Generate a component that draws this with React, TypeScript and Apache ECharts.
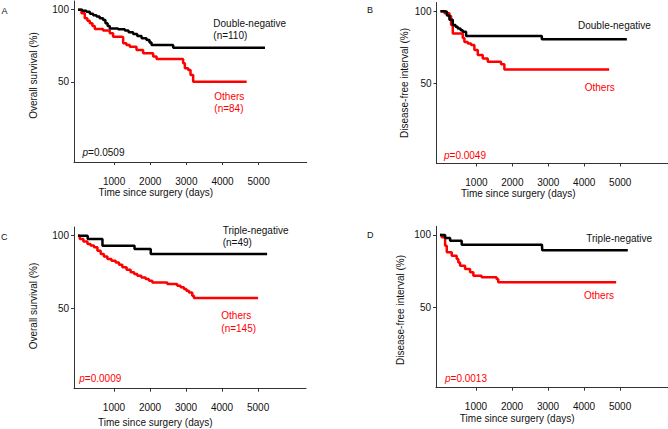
import React, { useEffect, useRef } from "react";
import * as echarts from "echarts";

// Tick labels
const xTicks = [1000, 2000, 3000, 4000, 5000];
const yTicks = [50, 100];

// Panel A: overall survival, double-negative vs others
const aDoubleNeg: [number, number][] = [
  [0, 100], [120, 99.3], [235, 98.6], [330, 97.2], [420, 96.1], [512, 95.2], [600, 94.1], [695, 92.9],
  [760, 90.6], [820, 88.6], [880, 87.0], [1110, 86.4], [1296, 85.5], [1400, 84.4], [1526, 83.2],
  [1640, 81.7], [1760, 80.2], [1897, 79.0], [1980, 77.3], [2036, 75.5], [2635, 73.7], [5175, 73.7],
];
const aOthers: [number, number][] = [
  [0, 100], [97, 97.5], [188, 94.0], [260, 92.3], [327, 90.6], [400, 88.6], [465, 86.6], [695, 85.5],
  [880, 83.6], [972, 81.3], [1205, 80.9], [1250, 76.7], [1340, 75.6], [1435, 74.4], [1620, 72.1],
  [1803, 69.8], [2080, 67.5], [2175, 65.9], [2820, 65.9], [2910, 62.9], [2958, 59.4], [3050, 58.2],
  [3115, 54.8], [3188, 50.1], [4668, 50.1],
];

// Panel B: disease-free interval, double-negative vs others
const bDoubleNeg: [number, number][] = [
  [0, 100], [111, 99.6], [180, 97.0], [250, 94.0], [343, 90.4], [420, 89.2], [481, 88.0], [560, 86.8],
  [620, 85.7], [713, 82.8], [2796, 82.8], [2820, 80.6], [5185, 80.6],
];
const bOthers: [number, number][] = [
  [0, 100], [111, 98.5], [250, 96.7], [296, 90.4], [343, 84.5], [574, 84.5], [620, 81.5], [666, 78.7],
  [760, 77.6], [851, 76.6], [944, 73.1], [1037, 69.6], [1176, 67.2], [1315, 64.9], [1593, 64.9],
  [1685, 63.3], [1778, 59.6], [4694, 59.6],
];

// Panel C: overall survival, triple-negative vs others
const cTripleNeg: [number, number][] = [
  [0, 100], [270, 97.7], [680, 93.1], [1570, 90.8], [2020, 87.4], [5250, 87.4],
];
const cOthers: [number, number][] = [
  [0, 100], [50, 97.7], [150, 96.0], [263, 94.3], [350, 93.2], [446, 92.0], [540, 89.7], [631, 87.4],
  [720, 85.6], [817, 83.9], [930, 82.8], [1047, 81.6], [1140, 79.9], [1232, 78.2], [1350, 76.5],
  [1463, 74.8], [1560, 73.6], [1648, 72.4], [1760, 71.2], [1878, 70.1], [1970, 69.0], [2064, 67.8],
  [2479, 66.7], [2756, 65.5], [2850, 64.4], [2941, 63.2], [3010, 62.0], [3080, 60.9], [3172, 58.6],
  [3218, 57.0], [5000, 57.0],
];

// Panel D: disease-free interval, triple-negative vs others
const dTripleNeg: [number, number][] = [
  [0, 100], [143, 97.9], [282, 96.1], [603, 93.3], [2830, 93.3], [2840, 89.4], [5214, 89.4],
];
const dOthers: [number, number][] = [
  [0, 100], [50, 98.5], [143, 92.6], [189, 88.0], [327, 85.7], [465, 83.4], [510, 81.0], [558, 78.8],
  [697, 76.5], [835, 74.2], [927, 71.9], [1156, 70.8], [1571, 69.6], [1618, 67.3], [4890, 67.3],
];

const FONT = "'Liberation Sans', Arial, sans-serif";
const BLACK = "#000000";
const RED = "#ff0000";

type Panel = {
  left: number; top: number; width: number; height: number;
  pos: [number, number][]; oth: [number, number][];
};

const panels: Panel[] = [
  { left: 74, top: 1, width: 232.7, height: 161, pos: aDoubleNeg, oth: aOthers },
  { left: 436.5, top: 2.5, width: 231.5, height: 161, pos: bDoubleNeg, oth: bOthers },
  { left: 74, top: 227, width: 232, height: 161.7, pos: cTripleNeg, oth: cOthers },
  { left: 436, top: 226.3, width: 232, height: 161.4, pos: dTripleNeg, oth: dOthers },
];

function txt(text: string, x: number, y: number, fill = "#111", opts: any = {}) {
  return {
    type: "text",
    x,
    y,
    rotation: opts.rotation || 0,
    style: {
      text,
      fill,
      fontSize: opts.fontSize || 10,
      fontFamily: FONT,
      textAlign: opts.align || "left",
      textVerticalAlign: "middle",
    },
  };
}

function pText(value: string, x: number, y: number, fill: string) {
  return {
    type: "text",
    x,
    y,
    style: {
      text: "{i|p}=" + value,
      fill,
      fontSize: 10,
      fontFamily: FONT,
      textAlign: "left",
      textVerticalAlign: "middle",
      rich: { i: { fontStyle: "italic", fill, fontSize: 10, fontFamily: FONT } },
    },
  };
}

export default function App() {
  const ref = useRef<HTMLDivElement>(null);
  useEffect(() => {
    document.body.style.margin = "0";
    if (!ref.current) return;
    const chart = echarts.init(ref.current, undefined, { renderer: "svg" });
    const axisLine = { show: true, onZero: false, lineStyle: { color: "#333", width: 1 } };
    const option: any = {
      animation: false,
      backgroundColor: "#ffffff",
      grid: panels.map((p) => ({ left: p.left, top: p.top, width: p.width, height: p.height, containLabel: false })),
      xAxis: panels.map((_, i) => ({
        type: "value",
        gridIndex: i,
        min: -110,
        max: 6330,
        axisLine,
        splitLine: { show: false },
        axisTick: { show: true, length: 3, customValues: xTicks, lineStyle: { color: "#333" } },
        axisLabel: {
          customValues: xTicks, margin: 14, fontSize: 10, color: "#111", fontFamily: FONT,
          formatter: (v: number) => String(v),
        },
      })),
      yAxis: panels.map((_, i) => ({
        type: "value",
        gridIndex: i,
        min: -5.5,
        max: 106,
        axisLine,
        splitLine: { show: false },
        axisTick: { show: true, length: 3, customValues: yTicks, lineStyle: { color: "#333" } },
        axisLabel: {
          customValues: yTicks, margin: 5, fontSize: 10, color: "#111", fontFamily: FONT,
          formatter: (v: number) => String(v),
        },
      })),
      series: panels.flatMap((p, i) => [
        {
          type: "line", xAxisIndex: i, yAxisIndex: i, step: "end", data: p.pos, showSymbol: false,
          lineStyle: { color: BLACK, width: 2.5 }, itemStyle: { color: BLACK }, z: 3,
        },
        {
          type: "line", xAxisIndex: i, yAxisIndex: i, step: "end", data: p.oth, showSymbol: false,
          lineStyle: { color: RED, width: 2.5 }, itemStyle: { color: RED }, z: 2,
        },
      ]),
      graphic: [
        // panel letters
        txt("A", 1.5, 11, "#111", { fontSize: 9 }),
        txt("B", 367, 10, "#111", { fontSize: 9 }),
        txt("C", 1, 237, "#111", { fontSize: 9 }),
        txt("D", 367, 235, "#111", { fontSize: 9 }),
        // y-axis titles
        txt("Overall survival (%)", 33, 75.5, "#111", { rotation: Math.PI / 2, align: "center" }),
        txt("Disease-free interval (%)", 404, 83, "#111", { rotation: Math.PI / 2, align: "center" }),
        txt("Overall survival (%)", 33, 306, "#111", { rotation: Math.PI / 2, align: "center" }),
        txt("Disease-free interval (%)", 400.5, 310, "#111", { rotation: Math.PI / 2, align: "center" }),
        // x-axis titles
        txt("Time since surgery (days)", 155.8, 192.7, "#111", { align: "center" }),
        txt("Time since surgery (days)", 518.3, 193.3, "#111", { align: "center" }),
        txt("Time since surgery (days)", 155.3, 422.3, "#111", { align: "center" }),
        txt("Time since surgery (days)", 517.2, 418, "#111", { align: "center" }),
        // Panel A annotations
        txt("Double-negative", 213.3, 23.3),
        txt("(n=110)", 213.3, 35.5),
        txt("Others", 214.3, 96, RED),
        txt("(n=84)", 214.3, 108.5, RED),
        pText("0.0509", 82.5, 152.7, "#111"),
        // Panel B annotations
        txt("Double-negative", 578, 25.7),
        txt("Others", 584.7, 87.3, RED),
        pText("0.0049", 444, 155, RED),
        // Panel C annotations
        txt("Triple-negative", 222.7, 230),
        txt("(n=49)", 222.7, 242.3),
        txt("Others", 221.3, 315, RED),
        txt("(n=145)", 221.3, 328, RED),
        pText("0.0009", 79.3, 378, RED),
        // Panel D annotations
        txt("Triple-negative", 586.3, 238),
        txt("Others", 584, 295.7, RED),
        pText("0.0013", 445, 378.3, RED),
      ],
    };
    chart.setOption(option);
    return () => chart.dispose();
  }, []);
  return <div ref={ref} style={{ width: 668, height: 429 }} />;
}
